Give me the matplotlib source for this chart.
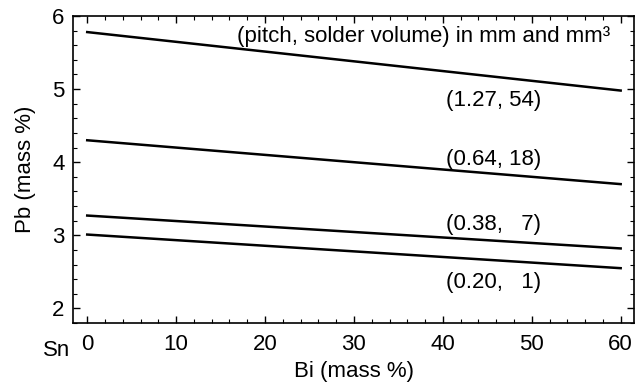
import matplotlib
matplotlib.use("Agg")
import matplotlib.pyplot as plt
from matplotlib.ticker import MultipleLocator

plt.rcParams['font.family'] = ['Liberation Sans', 'DejaVu Sans']

# Bi content (mass %) at line ends, Pb (mass %) for each (pitch, solder volume)
bi = [0, 60]
pb_127_54 = [5.78, 4.98]
pb_064_18 = [4.30, 3.70]
pb_038_7 = [3.27, 2.82]
pb_020_1 = [3.01, 2.55]
labels = ["(1.27, 54)", "(0.64, 18)", "(0.38,   7)", "(0.20,   1)"]
label_y = [4.85, 4.03, 3.15, 2.36]

fs = 16

fig = plt.figure(figsize=(6.35, 3.82), dpi=100)
ax = fig.add_axes([73/635, 1 - 323/382, (634-73)/635, (323-16)/382])

for pb in [pb_127_54, pb_064_18, pb_038_7, pb_020_1]:
    ax.plot(bi, pb, color='black', lw=1.8)

for lab, y in zip(labels, label_y):
    ax.text(40.4, y, lab, fontsize=fs, va='center', ha='left')
ax.text(16.8, 5.72, "(pitch, solder volume) in mm and mm³", fontsize=fs,
        va='center', ha='left')

ax.set_xlim(-1.6, 61.5)
ax.set_ylim(1.8, 6.0)
ax.xaxis.set_major_locator(MultipleLocator(10))
ax.xaxis.set_minor_locator(MultipleLocator(2))
ax.yaxis.set_major_locator(MultipleLocator(1))
ax.yaxis.set_minor_locator(MultipleLocator(0.2))
ax.tick_params(which='both', direction='in', top=True, right=True,
               labeltop=False, labelright=False, labelsize=fs)
ax.tick_params(axis='x', which='major', pad=8)
ax.tick_params(axis='y', which='major', pad=6)
ax.tick_params(which='major', length=5, width=1)
ax.tick_params(which='minor', length=3, width=0.8)
for s in ax.spines.values():
    s.set_linewidth(1.2)

ax.set_xlabel("Bi (mass %)", fontsize=fs, labelpad=4)
ax.set_ylabel("Pb (mass %)", fontsize=fs, labelpad=12)
ax.text(-0.005, -0.088, "Sn", transform=ax.transAxes, fontsize=fs,
        ha='right', va='center')

fig.savefig("out.png", dpi=100)
